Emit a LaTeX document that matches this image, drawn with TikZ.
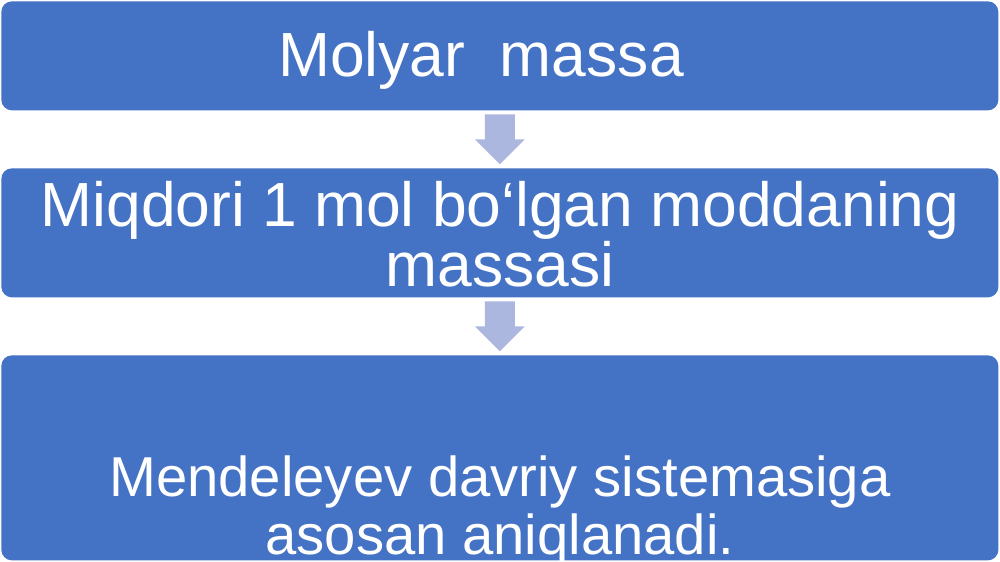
\documentclass[tikz,border=0pt]{standalone}
\usepackage{fontspec}
\setmainfont{Liberation Sans}
\usetikzlibrary{calc}
\definecolor{boxblue}{RGB}{68,114,196}
\definecolor{arrowlilac}{RGB}{172,183,224}

\begin{document}
\begin{tikzpicture}[
    stepbox/.style={fill=boxblue, rounded corners=6pt, inner sep=0pt, minimum width=19.94cm, anchor=north west},
    boxtext/.style={text=white, font=\fontsize{35.5}{34}\selectfont, align=center, inner sep=0pt},
    downarrow/.style={fill=arrowlilac}]
  \useasboundingbox (0,0) rectangle (20,-11.24);

  % the three boxes
  \node[stepbox, minimum height=2.18cm] (molyar) at (0.02,-0.02) {};
  \node[stepbox, minimum height=2.58cm] (miqdori) at (0.02,-3.36) {};
  \node[stepbox, minimum height=4.1cm] (mendeleyev) at (0.02,-7.1) {};

  % arrows between them
  \foreach \top/\bot in {molyar/miqdori, miqdori/mendeleyev} {
    \coordinate (mid) at ($(\top.south)!0.5!(\bot.north)$);
    \fill[downarrow] ($(mid)+(-0.3,0.5)$) -- ($(mid)+(0.3,0.5)$) -- ($(mid)+(0.3,0)$)
      -- ($(mid)+(0.5,0)$) -- ($(mid)+(0,-0.5)$) -- ($(mid)+(-0.5,0)$) -- ($(mid)+(-0.3,0)$) -- cycle;
  }

  % texts
  \node[boxtext] (molyar-txt) at (9.62,-1.2) {Molyar\ \ massa};
  \node[boxtext] (miqdori-txt) at (10,-4.68) {Miqdori 1 mol bo‘lgan moddaning\\massasi};
  \node[boxtext, font=\fontsize{32}{33}\selectfont] (mendeleyev-txt) at (10,-10.22) {Mendeleyev davriy sistemasiga\\asosan aniqlanadi.};
\end{tikzpicture}
\end{document}
